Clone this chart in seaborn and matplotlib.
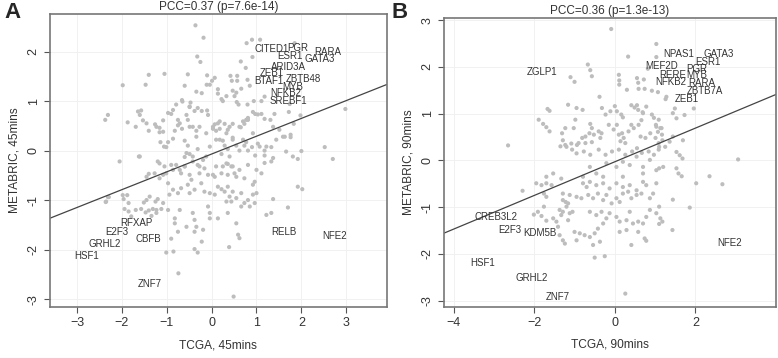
import numpy as np
import pandas as pd
import seaborn as sns
import matplotlib.pyplot as plt

# ---- panel A: TCGA 45mins vs METABRIC 45mins ----
a_x = [-1.40, -1.05, -1.98, -1.47, -2.31, -2.37, -1.64, -1.57, -1.87, -1.69, -1.53, -1.40, -1.26, -1.16,
       -1.16, -1.08, -1.14, -1.06, -1.62, -0.36, -0.18, 0.78, 0.90, 1.08, -0.32, -0.25, 0.65, 0.91, 0.76,
       -0.53, -0.10, 0.07, 0.01, -0.11, -0.04, 0.42, 0.45, 0.57, 0.57, -0.60, -0.34, -0.22, 0.14, 0.14,
       0.33, 0.47, 0.55, 0.51, 0.66, 0.80, 0.85, 0.22, 0.25, -0.66, -0.47, 0.56, 0.60, 0.80, 0.94, 1.11,
       1.18, -0.90, -0.79, -0.49, -0.38, -0.31, -0.22, -0.10, -0.08, -0.71, -0.75, -0.82, -0.66, -0.53,
       -0.49, -0.34, 0.07, 0.14, 0.03, 0.10, 0.18, 0.29, 0.36, 0.47, 0.70, 0.77, 0.73, 0.65, 0.81, 0.92,
       0.97, 1.03, 1.11, 1.18, 1.31, 1.40, -0.97, -0.86, -1.01, -0.60, -0.53, -0.31, -0.49, -0.60, 0.18,
       0.25, 0.29, 0.36, 0.22, 0.47, 0.55, 0.62, 0.73, 0.77, 0.81, 0.90, 1.03, 1.18, 1.33, 0.97, 1.18,
       1.37, 1.85, 1.74, 1.72, 1.98, 1.83, 2.98, 1.63, 1.76, 1.76, 2.00, 2.52, 1.92, 2.70, -2.05, -1.20,
       -1.45, -1.40, -1.27, -1.16, -1.08, -2.31, -2.35, -1.88, -1.85, -1.94, -1.85, -1.79, -1.69, -1.57,
       -1.51, -1.45, -1.38, -1.47, -1.40, -1.31, -1.23, -1.34, -1.23, -1.12, -1.25, -1.20, -1.08, -2.36,
       -2.29, -1.98, -1.96, -0.90, -0.71, -0.60, -0.42, -0.31, -0.16, -0.27, -0.08, 0.07, 0.25, 0.36,
       0.44, 0.51, 0.36, 0.81, 1.00, 1.11, 1.18, 1.33, 0.73, 0.96, 0.92, -0.97, -0.86, -0.75, -0.94,
       -0.68, -0.53, -0.49, -0.38, -0.45, -0.23, -0.16, -0.04, 0.07, 0.14, 0.22, 0.29, 0.36, 0.47, 0.40,
       0.33, 0.44, 0.55, 0.66, 0.73, 0.85, 0.92, 1.00, 0.81, 0.96, 0.66, 1.37, 1.22, 1.33, -0.97, -0.71,
       -0.82, -0.82, -0.75, -0.90, -0.56, -0.42, -0.38, -0.34, -0.38, -0.19, -0.08, -0.04, -0.04, 0.14,
       0.36, 0.55, 0.59, 0.62, 0.39, -0.22, -0.38, -0.31, -1.01, -0.85, -0.74, 0.49, 1.92, 2.02, 1.70,
       -1.60, -1.16, -1.05, -1.01, -0.86, -0.79, -0.68, -0.60, -0.49, -0.42, -0.56, -0.27, -0.12, -0.04,
       -0.19, 0.03, 0.10, 0.22, 0.33, 0.40, 0.47, 0.62, 0.55, -1.60, -1.45, -1.23, -1.08, -0.97, -0.86,
       -0.75, -0.65, -0.49, -0.56, -0.42, -0.27, -0.34, -0.12, 0.03, 0.18, 0.10, 0.33, 0.40, 0.47, 0.62,
       0.70, 0.81, 0.92, 1.07, 1.22, 1.44, 1.59, 1.66, 1.81, 1.51, 1.37]
a_y = [1.53, 1.55, 1.32, 1.33, 0.72, 0.62, 0.79, 0.81, 0.57, 0.48, 0.61, 0.40, 0.53, 0.46,
       0.37, 0.61, 0.17, 0.08, -0.12, 2.53, 2.28, 2.17, 2.24, 2.24, 1.90, 1.79, 1.80, 1.89, 1.67,
       1.54, 1.52, 1.47, 1.41, 1.33, 1.33, 1.51, 1.41, 1.51, 1.41, 1.31, 1.19, 1.16, 1.24, 1.15,
       1.10, 1.21, 1.17, 1.10, 1.25, 1.43, 1.31, 1.04, 1.00, 1.02, 0.97, 0.98, 0.93, 0.93, 1.00, 1.00,
       1.09, 0.74, 0.93, 0.88, 0.80, 0.86, 0.80, 0.81, 0.72, 0.55, 0.51, 0.40, 0.44, 0.62,
       0.48, 0.40, 0.53, 0.55, 0.44, 0.40, 0.44, 0.54, 0.42, 0.54, 0.59, 0.62, 0.54, 0.47, 0.66, 0.78,
       0.74, 0.73, 0.74, 0.64, 0.62, 0.74, 0.17, 0.24, 0.07, 0.20, 0.10, 0.03, -0.07, -0.13, 0.22,
       0.20, 0.10, 0.03, -0.07, 0.26, 0.10, 0.00, 0.10, 0.17, 0.00, 0.07, 0.14, 0.00, 0.07, -0.10, -0.10,
       -0.15, 2.17, 0.94, 0.78, 0.71, 0.54, 0.84, 0.28, 0.32, 0.27, -0.01, 0.07, -0.17, -0.17, -0.22, -0.22,
       -0.53, -0.47, -0.46, -0.56, -0.49, -0.94, -1.03, -0.90, -1.06, -1.18, -1.23, -1.33, -1.20, -1.18,
       -1.05, -1.00, -0.93, -1.25, -1.21, -1.18, -1.20, -1.32, -1.26, -1.18, -1.03, -0.98, -1.06, -1.04,
       -0.94, -0.90, -0.98, -0.29, -0.39, -0.32, -0.22, -0.29, -0.36, -0.46, -0.49, -0.53, -0.32, -0.27,
       -0.32, -0.46, -0.49, -0.29, -0.39, -0.46, -0.25, -0.22, -0.56, -0.63, -0.69, -0.66, -0.79, -0.86, -0.89,
       -0.76, -0.69, -0.86, -0.79, -0.59, -0.66, -0.83, -0.86, -0.89, -0.73, -0.78, -0.83, -0.73, -0.83, -0.93,
       -1.03, -1.03, -0.96, -0.86, -1.06, -1.13, -0.89, -0.86, -1.00, -1.06, -1.13, -0.98, -1.30, -1.26, -1.20, -1.20,
       -1.37, -1.47, -1.64, -1.78, -1.54, -1.26, -1.40, -1.54, -1.64, -1.60, -1.13, -1.26, -1.37, -1.37,
       -1.26, -1.47, -1.70, -1.77, -1.95, -1.84, -1.99, -2.06, -2.06, -2.04, -2.48, -2.95, -0.73, -0.78, -1.15,
       -0.12, -0.26, -0.32, -0.46, -0.39, -0.29, -0.46, -0.32, -0.49, -0.12, -0.05, -0.32, -0.12, 0.08,
       -0.19, -0.49, -0.32, -0.46, -0.26, -0.12, -0.32, -0.39, -0.53, 0.72, 0.55, 0.48, 0.38, 0.76, 0.82,
       0.62, 0.99, 0.89, 0.72, 0.48, 0.48, 0.28, 0.35, 0.48, 0.59, 0.22, 0.35, 0.48, 0.22, 0.48,
       0.22, 0.62, 0.35, 0.08, 0.08, 0.22, 0.28, -0.02, -0.12, 0.42, 0.48]
a_genes = ["CITED1", "PGR", "RARA", "ESR1", "GATA3", "ARID3A", "ZEB1", "ZBTB48", "BTAF1", "MYB",
           "NFKB2", "SREBF1", "RFXAP", "E2F3", "CBFB", "GRHL2", "HSF1", "ZNF7", "RELB", "NFE2"]
a_gx = [1.33, 1.93, 2.59, 1.74, 2.41, 1.72, 1.35, 2.05, 1.28, 1.81, 1.66, 1.70, -1.68, -2.11, -1.40,
        -2.38, -2.78, -1.37, 1.61, 2.74]
a_gy = [2.05, 2.08, 2.00, 1.92, 1.85, 1.69, 1.57, 1.44, 1.41, 1.29, 1.16, 1.00, -1.47, -1.64, -1.78,
        -1.89, -2.13, -2.69, -1.64, -1.73]
a_fit = (0.36, -0.07)  # slope, intercept

# ---- panel B: TCGA 90mins vs METABRIC 90mins ----
b_x = [-1.67, -1.62, -1.89, -1.78, -1.70, -1.62, -2.65, -0.09, 1.03, 0.33, 1.03, 0.82, -0.67, -0.61, -0.57,
       -1.10, -1.00, 0.10, 0.11, 0.11, 0.55, 0.58, 0.59, 0.72, 0.74, 0.30, 0.92, 1.07, -0.38, -1.16, -0.95,
       -0.80, -0.32, -0.23, -0.11, 0.00, 0.05, 0.16, 0.20, 0.41, 0.49, 0.55, 0.69, 0.92, 0.97, 1.09, 1.02,
       1.13, -0.98, -1.02, -1.23, -1.31, -0.61, -0.57, -0.63, -0.52, -0.40, -0.33, -0.36, -0.81, -0.73,
       -0.90, -0.73, -0.57, -0.15, -0.03, 0.05, 0.10, 0.18, 0.22, 0.14, 0.26, 0.34, 0.41, 0.47, 0.59, 0.64,
       0.76, 0.88, 1.01, 1.09, 1.17, -1.35, -1.23, -1.06, -0.94, -0.77, -0.61, -0.40, -0.23, -0.07, 0.10,
       0.26, 0.43, 0.55, 0.67, 0.84, 0.97, 1.09, 3.06, 2.35, 1.49, 1.44, 1.53, 1.73, 1.96, 1.69, 1.53,
       1.61, 1.68, 1.28, 1.26, 1.36, 1.44, 1.25, 1.03, 1.07, 1.16, 1.18, 1.10, 1.53, 1.58, 1.66, 1.20,
       0.58, 0.66, 0.70, 0.78, -2.29, -1.95, -1.82, -1.70, -1.57, -1.76, -1.70, -2.01, -1.91, -1.82, -1.76,
       -1.70, -1.53, -1.45, -1.41, -1.37, -1.33, -1.29, -1.20, -1.29, -1.22, -1.16, -1.12, -1.05, -1.16,
       -1.37, -1.29, -1.24, -1.00, -0.95, -0.87, -0.75, -0.62, -0.50, -0.42, -0.54, -0.37, -0.50, -0.25,
       0.26, -0.79, -0.70, -0.62, -0.46, -0.29, -0.13, 0.04, 0.20, 0.37, 0.54, 0.70, 0.78, 1.03, -1.29,
       -1.12, -0.95, -0.83, -0.66, -0.54, -0.42, -0.29, -0.21, -0.08, 0.04, 0.12, 0.20, 0.33, 0.41, 0.54,
       0.66, 0.87, 0.95, 1.10, 1.44, -0.62, -0.46, -0.33, -0.21, -0.29, -0.13, 0.04, 0.12, 0.29, 0.37,
       0.45, 0.58, 0.70, 0.78, 0.87, 1.03, 1.13, 1.18, 1.10, 1.43, 1.86, 2.02, 2.67, 0.12, 0.29, 0.41,
       0.74, 0.78, 0.58, -0.21, 0.04, 0.20, 0.37, 0.54, 0.70, 0.87, 1.03, -0.62, -0.46, -0.79, -0.29,
       0.20, 0.70, 1.10, -1.29, -1.20, -1.08, -0.95, -1.70, -1.53, -1.33]
b_y = [1.10, 1.06, 0.87, 0.78, 0.71, 0.62, 0.32, 2.81, 2.49, 2.22, 2.21, 1.96, 2.05, 1.93, 1.80,
       1.78, 1.68, 1.83, 1.71, 1.62, 1.76, 1.66, 1.53, 1.73, 1.53, 1.51, 1.49, 1.46, 1.36, 1.19, 1.12,
       1.08, 1.12, 0.98, 1.05, 1.16, 1.05, 0.98, 0.92, 1.18, 1.13, 1.18, 1.03, 0.98, 0.91, 0.87, 0.76,
       0.69, 0.87, 0.69, 0.69, 0.58, 0.78, 0.69, 0.58, 0.55, 0.62, 0.58, 0.48, 0.48, 0.51,
       0.37, 0.37, 0.39, 0.76, 0.66, 0.76, 0.55, 0.58, 0.48, 0.41, 0.37, 0.62, 0.76, 0.69, 0.76, 0.51,
       0.48, 0.58, 0.48, 0.37, 0.55, 0.30, 0.33, 0.23, 0.33, 0.19, 0.12, 0.23, 0.12, 0.19, 0.23,
       0.12, 0.19, 0.26, 0.16, 0.19, 0.12, 0.23, 0.02, -0.34, 1.11, 1.01, 0.90, 0.97, 1.11, 0.43, 0.18,
       0.11, 0.04, 1.36, 1.31, 0.40, 0.51, 0.29, 0.72, 0.61, 0.69, 0.43, 0.29, -0.17, -0.28, -0.34, -0.14,
       1.08, 0.86, 1.01, 1.15, -0.65, -0.49, -0.53, -0.49, -0.53, -0.71, -0.78, -1.16, -1.10, -1.19, -0.99,
       -1.29, -1.24, -1.31, -1.42, -1.06, -1.17, -1.10, -0.99, -0.85, -0.89, -0.92, -1.13, -1.10, -1.28,
       -1.60, -1.71, -1.78, -1.53, -1.71, -1.56, -1.60, -1.64, -1.56, -1.46, -1.81, -1.74, -2.08, -2.05,
       -2.85, -0.49, -0.57, -0.46, -0.53, -0.49, -0.60, -0.49, -0.57, -0.53, -0.64, -0.46, -0.53, -0.49, -0.71,
       -0.74, -0.78, -0.81, -0.74, -0.81, -0.71, -0.85, -0.74, -0.92, -0.81, -0.89, -0.71, -0.67, -0.81, -0.74,
       -0.71, -0.81, -0.71, -0.99, -0.84, -1.10, -1.17, -1.10, -1.24, -1.35, -1.13, -1.21, -1.31, -1.28, -1.10,
       -1.35, -1.31, -1.35, -1.21, -1.06, -1.13, -1.24, -1.31, -1.36, -1.49, -1.01, -0.49, -0.51, -1.53, -1.49, -1.81,
       -1.67, -1.72, -1.53, -0.06, -0.14, -0.03, -0.10, 0.08, -0.14, 0.01, -0.21, -0.14, -0.28, -0.35, -0.35,
       -0.35, -0.28, -0.17, 0.43, 0.29, 0.36, 0.15, -0.35, -0.28, -0.39]
b_genes = ["NPAS1", "GATA3", "ESR1", "MEF2D", "PGR", "RERE", "MYB", "NFKB2", "RARA", "ZBTB7A", "ZEB1",
           "ZGLP1", "CREB3L2", "E2F3", "KDM5B", "HSF1", "GRHL2", "ZNF7", "NFE2"]
b_gx = [1.59, 2.59, 2.31, 1.16, 2.04, 1.43, 2.02, 1.40, 2.15, 2.23, 1.78, -1.80, -2.94, -2.61, -1.86,
        -3.27, -2.07, -1.42, 2.85]
b_gy = [2.27, 2.27, 2.11, 2.01, 1.95, 1.83, 1.82, 1.68, 1.66, 1.49, 1.32, 1.90, -1.22, -1.48, -1.55,
        -2.19, -2.51, -2.93, -1.76]
b_fit = (0.36, -0.03)

panels = [
    dict(letter="A", x=a_x, y=a_y, gx=a_gx, gy=a_gy, genes=a_genes, fit=a_fit,
         title="PCC=0.37 (p=7.6e-14)", xlabel="TCGA, 45mins", ylabel="METABRIC, 45mins",
         xlim=(-3.6, 3.9), ylim=(-3.16, 2.76), xticks=[-3, -2, -1, 0, 1, 2, 3], yticks=[-3, -2, -1, 0, 1, 2],
         rect=[0.0643, 0.1425, 0.4327, 0.8185]),
    dict(letter="B", x=b_x, y=b_y, gx=b_gx, gy=b_gy, genes=b_genes, fit=b_fit,
         title="PCC=0.36 (p=1.3e-13)", xlabel="TCGA, 90mins", ylabel="METABRIC, 90mins",
         xlim=(-4.24, 4.0), ylim=(-3.13, 3.04), xticks=[-4, -2, 0, 2], yticks=[-3, -2, -1, 0, 1, 2, 3],
         rect=[0.5707, 0.1433, 0.4267, 0.8057]),
]

sns.set_style("white")
plt.rcParams['font.family'] = ['Liberation Sans', 'DejaVu Sans']

fig = plt.figure(figsize=(7.78, 3.58), dpi=100)
for p in panels:
    ax = fig.add_axes(p["rect"])
    df = pd.DataFrame({"x": p["x"], "y": p["y"]})
    sns.scatterplot(data=df, x="x", y="y", ax=ax, color="#bdbdbd", s=9, edgecolor="none", linewidth=0)
    slope, icpt = p["fit"]
    ax.axline((0, icpt), slope=slope, color="#444444", lw=0.9)
    for g, gx, gy in zip(p["genes"], p["gx"], p["gy"]):
        ax.text(gx, gy, g, ha="center", va="center", fontsize=7, color="#333333")
    ax.set_xlim(p["xlim"])
    ax.set_ylim(p["ylim"])
    ax.set_xticks(p["xticks"])
    ax.set_yticks(p["yticks"])
    ax.set_yticklabels([str(v) for v in p["yticks"]], rotation=90, va="center")
    ax.grid(True, color="#efefef", lw=0.6)
    ax.tick_params(direction="out", length=4, width=0.8, color="#555555", labelsize=9,
                   labelcolor="#333333", bottom=True, left=True)
    for sp in ax.spines.values():
        sp.set_color("#777777")
        sp.set_linewidth(1.2)
    ax.set_xlabel(p["xlabel"], fontsize=8.6, color="#333333", labelpad=7)
    ax.set_ylabel(p["ylabel"], fontsize=8.6, color="#333333", labelpad=5)
    ax.set_title(p["title"], fontsize=8.5, color="#333333", pad=3)

fig.text(0.006, 0.995, "A", fontsize=16, fontweight="bold", va="top", ha="left")
fig.text(0.503, 0.995, "B", fontsize=16, fontweight="bold", va="top", ha="left")

fig.savefig("out.png", dpi=100)
